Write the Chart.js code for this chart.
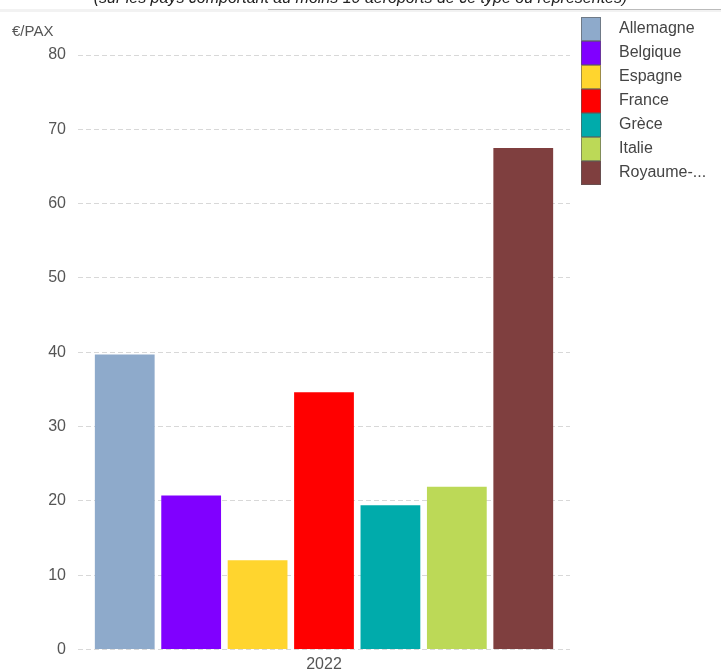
<!DOCTYPE html>
<html>
<head>
<meta charset="utf-8">
<script src="https://cdn.jsdelivr.net/npm/chart.js@4/dist/chart.umd.min.js"></script>
<style>
  body { margin: 0; background: #fff; overflow: hidden; }
  #wrap { position: relative; width: 721px; height: 671px; }
  #header { position: absolute; left: 0; top: -11px; width: 721px; text-align: center;
    font: italic 16px "Liberation Sans", Arial, sans-serif; color: #222; white-space: nowrap; }
  #band { position: absolute; left: 0; top: 9px; width: 721px; height: 3px; background: #f2f2f2; }
  #shade { position: absolute; left: 268px; top: 9px; width: 453px; height: 1px; background: #bbb; }
  canvas { position: absolute; left: 0; top: 0; }
</style>
</head>
<body>
<div id="wrap">
  <canvas id="chart" width="721" height="671"></canvas>
  <div id="band"></div><div id="shade"></div>
  <div id="header">(sur les pays comportant au moins 10 aéroports de ce type ou représentés)</div>
</div>
<script>
const years = ['2022'];
const countries = ['Allemagne', 'Belgique', 'Espagne', 'France', 'Grèce', 'Italie', 'Royaume-Uni'];
const values = [39.7, 20.7, 12.0, 34.6, 19.4, 21.9, 67.5];
const colors = ['#8eaacb', '#8000ff', '#ffd52e', '#ff0000', '#00abab', '#bcd957', '#7f3f3f'];

const font = '"Liberation Sans", Arial, sans-serif';

// short legend names like the original tool ("Royaume-...")
function shortName(name) {
  return name.length > 9 ? name.slice(0, 8) + '...' : name;
}

// legend drawn as a column of touching swatches on the right
const sideLegend = {
  id: 'sideLegend',
  afterDraw(chart) {
    const ctx = chart.ctx;
    const x = 581, y0 = 17, h = 24;
    ctx.save();
    ctx.font = '16px ' + font;
    ctx.textBaseline = 'middle';
    chart.data.datasets.forEach((ds, i) => {
      const y = y0 + i * h;
      ctx.fillStyle = ds.backgroundColor;
      ctx.fillRect(x, y, 20, h);
      ctx.strokeStyle = 'rgba(90,90,90,0.6)';
      ctx.lineWidth = 1;
      ctx.strokeRect(x + 0.5, y + 0.5, 19, h - 1);
      ctx.fillStyle = '#444';
      ctx.fillText(shortName(ds.label), 619, y + h / 2);
    });
    // unit label above the value axis
    ctx.font = '15px ' + font;
    ctx.fillStyle = '#555';
    ctx.textBaseline = 'alphabetic';
    ctx.fillText('€/PAX', 12, 36);
    ctx.restore();
  }
};

new Chart(document.getElementById('chart'), {
  type: 'bar',
  data: {
    labels: years,
    datasets: countries.map((c, i) => ({
      label: c,
      data: [values[i]],
      backgroundColor: colors[i],
      borderWidth: 0
    }))
  },
  options: {
    responsive: false,
    animation: false,
    layout: { padding: { left: 0, right: 151, top: 55, bottom: 0 } },
    categoryPercentage: 0.945,
    barPercentage: 0.9,
    plugins: { legend: { display: false }, tooltip: { enabled: false } },
    scales: {
      x: {
        grid: { display: false },
        border: { display: false },
        ticks: { color: '#555', font: { family: font, size: 16 }, padding: -2 },
        afterFit(scale) { scale.height = 21; }
      },
      y: {
        min: 0,
        max: 80,
        ticks: { stepSize: 10, color: '#555', font: { family: font, size: 16 }, padding: 12 },
        grid: { color: '#d8d8d8', drawTicks: false },
        border: { display: false, dash: [5, 3] },
        afterFit(scale) { scale.width = 78; }
      }
    }
  },
  plugins: [sideLegend]
});
</script>
</body>
</html>
